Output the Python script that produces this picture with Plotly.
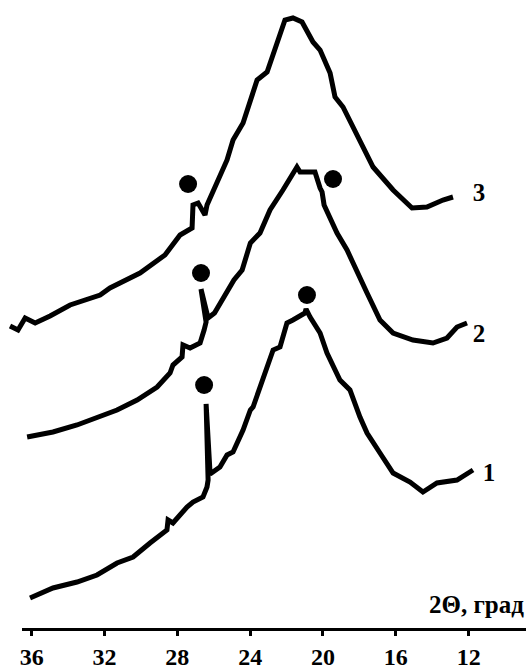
import plotly.graph_objects as go

# 2Theta (deg) and intensity (arb. units, curves stacked with offsets)
theta_1 = [36.09, 34.83, 33.51, 32.41, 31.31, 30.43, 29.50, 28.57, 28.51, 28.24, 27.47, 27.14,
           26.59, 26.37, 26.31, 26.42, 26.20, 25.66, 25.27, 24.94, 24.39, 23.99, 23.84, 23.46,
           23.07, 22.74, 22.36, 21.98, 21.65, 20.99, 20.93, 20.71, 20.16, 19.78, 19.07, 18.52,
           17.97, 17.58, 16.87, 16.15, 15.22, 14.51, 13.74, 12.64, 11.76]
inten_1 = [30, 40, 46, 53, 65, 71, 85, 98, 108, 105, 121, 126,
           131, 141, 148, 224, 154, 161, 173, 176, 198, 218, 221, 241,
           261, 278, 281, 305, 308, 315, 319, 311, 295, 275, 248, 238,
           211, 195, 175, 155, 146, 136, 145, 148, 158]

theta_2 = [36.25, 34.83, 33.51, 32.24, 31.31, 30.21, 29.11, 28.40, 28.24, 27.74, 27.69, 27.30,
           26.75, 26.53, 26.42, 26.70, 26.31, 25.96, 24.89, 24.44, 23.99, 23.46, 22.91, 22.20,
           21.43, 21.26, 20.44, 20.16, 20.05, 19.94, 19.23, 18.68, 18.13, 17.58, 16.87, 16.15,
           15.06, 13.96, 13.19, 12.64, 12.09]
inten_2 = [191, 196, 203, 211, 218, 228, 241, 255, 263, 271, 283, 280,
           285, 298, 306, 339, 310, 315, 348, 358, 385, 395, 418, 438,
           461, 456, 456, 440, 436, 423, 395, 378, 355, 335, 308, 295,
           288, 285, 290, 301, 305]

theta_3 = [37.19, 36.75, 36.36, 35.81, 34.99, 33.89, 32.24, 31.70, 30.05, 28.68, 27.85, 27.19,
           27.14, 26.86, 26.48, 26.37, 25.27, 24.94, 24.39, 23.62, 23.07, 22.52, 22.09, 21.65,
           21.15, 20.55, 20.16, 19.61, 19.34, 18.90, 18.35, 17.97, 17.25, 16.15, 15.11, 14.29,
           13.41, 12.86]
inten_3 = [302, 298, 310, 305, 312, 323, 333, 340, 355, 373, 393, 400,
           423, 425, 413, 423, 468, 488, 505, 548, 556, 585, 608, 610,
           606, 586, 578, 555, 531, 521, 501, 488, 461, 438, 420, 421,
           428, 431]

# reflex markers (black dots)
dot_theta = [27.41, 19.45, 26.70, 20.88, 26.53]
dot_inten = [444, 449, 355, 333, 243]

# curve labels
label_text = ["1", "2", "3"]
label_theta = [10.88, 11.43, 11.43]
label_inten = [153, 292, 433]

tick_vals = [36, 32, 28, 24, 20, 16, 12]

FONT = "Liberation Serif"
fig = go.Figure()
for th, it in [(theta_1, inten_1), (theta_2, inten_2), (theta_3, inten_3)]:
    fig.add_trace(go.Scatter(x=th, y=it, mode="lines",
                             line=dict(color="black", width=5, shape="linear"),
                             hoverinfo="skip", showlegend=False))
fig.add_trace(go.Scatter(x=dot_theta, y=dot_inten, mode="markers",
                         marker=dict(color="black", size=18),
                         showlegend=False, cliponaxis=False))
fig.add_trace(go.Scatter(x=label_theta, y=label_inten, mode="text", text=label_text,
                         textfont=dict(family=FONT, size=25, color="black"),
                         texttemplate="<b>%{text}</b>",
                         showlegend=False, cliponaxis=False))
# dummy trace so that the visible axis is drawn
fig.add_trace(go.Scatter(x=[None], y=[None], xaxis="x2", yaxis="y",
                         showlegend=False, hoverinfo="skip"))

fig.update_layout(
    width=526, height=669,
    margin=dict(l=0, r=0, t=0, b=41, autoexpand=False),
    paper_bgcolor="white", plot_bgcolor="rgba(0,0,0,0)",
    xaxis=dict(domain=[0, 1], range=[37.74, 8.85], visible=False),
    xaxis2=dict(domain=[22 / 526, 1], range=[36.53, 8.85], anchor="y",
                showline=True, linecolor="black", linewidth=3,
                ticks="outside", tickvals=tick_vals, ticklen=5, tickwidth=3,
                tickcolor="black", showgrid=False, zeroline=False,
                automargin=False,
                tickfont=dict(family=FONT, size=24, color="black"),
                ticktext=[f"<b>{v}</b>" for v in tick_vals]),
    yaxis=dict(range=[0, 628], visible=False),
    annotations=[dict(text="<b>2Θ, град</b>", xref="paper", yref="paper",
                      x=1, y=24 / 628, xanchor="right", yanchor="middle",
                      showarrow=False,
                      font=dict(family=FONT, size=25, color="black"))],
)
fig.write_html("out.html", config={"displayModeBar": False},
               post_script="document.body.style.margin='0';document.body.style.overflow='hidden';")
